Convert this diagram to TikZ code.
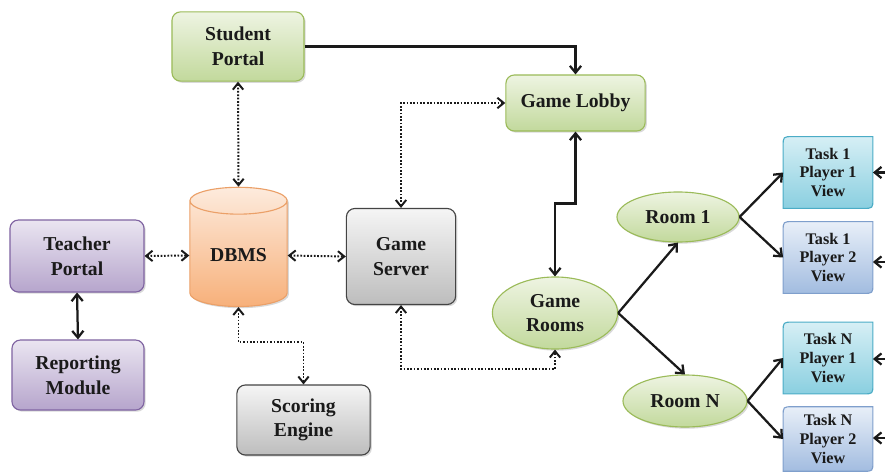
\documentclass[tikz,border=0pt]{standalone}
\usepackage{fontspec}
\setmainfont{Liberation Serif}
\usetikzlibrary{arrows.meta,positioning,shapes.geometric,shadows,backgrounds}

\definecolor{grnline}{HTML}{9BBB59}
\definecolor{grntop}{HTML}{EEF4E2}
\definecolor{grnbot}{HTML}{C2D99C}
\definecolor{purline}{HTML}{8064A2}
\definecolor{purtop}{HTML}{EAE5F1}
\definecolor{purbot}{HTML}{B6A5CC}
\definecolor{orgline}{HTML}{EBA068}
\definecolor{orgtop}{HTML}{FDEBDD}
\definecolor{orgbot}{HTML}{F7B07A}
\definecolor{gryline}{HTML}{444444}
\definecolor{grytop}{HTML}{F5F5F5}
\definecolor{grybot}{HTML}{BDBDBD}
\definecolor{cynline}{HTML}{4BACC6}
\definecolor{cyntop}{HTML}{D6EFF5}
\definecolor{cynbot}{HTML}{8ACFE0}
\definecolor{bluline}{HTML}{7F9FCC}
\definecolor{blutop}{HTML}{E8EFF8}
\definecolor{blubot}{HTML}{A2BCE0}
\definecolor{ink}{HTML}{1A1A1A}

\begin{document}
\begin{tikzpicture}[
 x=0.025cm,
 y=-0.025cm,
 base/.style={
  text=ink,
  align=center,
  inner sep=1pt,
  font=\bfseries\fontsize{14}{17.5}\selectfont,
  drop shadow={opacity=0.3,shadow xshift=1.2pt,shadow yshift=-1.2pt}
 },
 box/.style={base,rectangle,rounded corners=6pt,thick},
 green/.style={draw=grnline,top color=grntop,bottom color=grnbot},
 purple/.style={box,draw=purline,top color=purtop,bottom color=purbot},
 grey/.style={box,draw=gryline,top color=grytop,bottom color=grybot},
 room/.style={base,ellipse,thick,green},
 db/.style={
  base,
  cylinder,
  shape border rotate=90,
  aspect=0.45,
  thick,
  draw=orgline,
  top color=orgtop,
  bottom color=orgbot
 },
 task/.style={
  align=center,
  text=ink,
  inner sep=0pt,
  minimum width=2.23cm,
  minimum height=1.78cm,
  font=\bfseries\fontsize{11.5}{13.5}\selectfont
 },
 cyan view/.style={thick,draw=cynline,top color=cyntop,bottom color=cynbot},
 blue view/.style={thick,draw=bluline,top color=blutop,bottom color=blubot},
 arr/.style={-{Straight Barb[length=1.7mm,width=2.8mm]},line width=1.6pt,ink},
 dbl/.style={arr,{Straight Barb[length=1.7mm,width=2.8mm]}-{Straight Barb[length=1.7mm,width=2.8mm]}},
 dots/.style={
  {Straight Barb[length=1.6mm,width=2.6mm]}-{Straight Barb[length=1.6mm,width=2.6mm]},
  line width=1.4pt,
  dash pattern=on 1.2pt off 1.2pt,
  ink
 }
]
 \useasboundingbox (0,0) rectangle (885,472);

 % portals and servers
 \node[box,green,minimum width=3.3cm,minimum height=1.73cm]   (sp) at (238,46.5) {Student\\Portal};
 \node[box,green,minimum width=3.48cm,minimum height=1.4cm]   (lobby) at (575.5,103) {Game Lobby};
 \node[purple,minimum width=3.35cm,minimum height=1.8cm]      (teacher) at (77,256) {Teacher\\Portal};
 \node[purple,minimum width=3.3cm,minimum height=1.75cm]      (report) at (78,375) {Reporting\\Module};
 \node[db,minimum width=2.43cm,minimum height=2.98cm]         (dbms) at (238.5,255.5) {DBMS};
 \node[grey,minimum width=2.73cm,minimum height=2.4cm]        (server) at (401,256.5) {Game\\Server};
 \node[grey,minimum width=3.33cm,minimum height=1.75cm]       (scoring) at (303.5,420) {Scoring\\Engine};

 % rooms
 \node[room,minimum width=3.13cm,minimum height=1.8cm]  (rooms) at (555,313) {Game\\Rooms};
 \node[room,minimum width=3.05cm,minimum height=1.25cm] (room1) at (678,217) {Room 1};
 \node[room,minimum width=3.1cm,minimum height=1.3cm]   (roomn) at (685,401) {Room N};

 % player views
 \node[task] (t1p1) at (828,172.5) {Task 1\\Player 1\\View};
 \node[task] (t1p2) at (828,257.5) {Task 1\\Player 2\\View};
 \node[task] (tnp1) at (828,358)   {Task N\\Player 1\\View};
 \node[task,minimum height=1.6cm] (tnp2) at (828,439) {Task N\\Player 2\\View};
 \begin{scope}[on background layer]
  \draw[cyan view] (t1p1.north east) -- ([xshift=7pt]t1p1.north west)
   .. controls (t1p1.north west) .. ([yshift=-7pt]t1p1.north west) -- (t1p1.south west)
   -- ([xshift=-7pt]t1p1.south east) .. controls (t1p1.south east) .. ([yshift=7pt]t1p1.south east) -- cycle;
  \draw[blue view] (t1p2.north east) -- ([xshift=7pt]t1p2.north west)
   .. controls (t1p2.north west) .. ([yshift=-7pt]t1p2.north west) -- (t1p2.south west)
   -- ([xshift=-7pt]t1p2.south east) .. controls (t1p2.south east) .. ([yshift=7pt]t1p2.south east) -- cycle;
  \draw[cyan view] (tnp1.north east) -- ([xshift=7pt]tnp1.north west)
   .. controls (tnp1.north west) .. ([yshift=-7pt]tnp1.north west) -- (tnp1.south west)
   -- ([xshift=-7pt]tnp1.south east) .. controls (tnp1.south east) .. ([yshift=7pt]tnp1.south east) -- cycle;
  \draw[blue view] (tnp2.north east) -- ([xshift=7pt]tnp2.north west)
   .. controls (tnp2.north west) .. ([yshift=-7pt]tnp2.north west) -- (tnp2.south west)
   -- ([xshift=-7pt]tnp2.south east) .. controls (tnp2.south east) .. ([yshift=7pt]tnp2.south east) -- cycle;
 \end{scope}

 % inputs from the right edge
 \coordinate (in1) at (885,172.5);
 \coordinate (in2) at (885,262);
 \coordinate (in3) at (885,359);
 \coordinate (in4) at (885,438);

 \draw[arr] (sp.east) -| (lobby.north);
 \draw[dots] (sp.south) -- (dbms.north);
 \draw[dots] (server.north) |- (lobby.west);
 \draw[dbl] (lobby.south) -- ++(0,72) -| (rooms.north);
 \draw[dots] (teacher.east) -- (dbms.west);
 \draw[dots] (dbms.east) -- (server.west);
 \draw[dbl] (teacher.south) -- (report.north);
 \draw[dots] (dbms.south) -- ++(0,35) -| (scoring.north);
 \draw[dots] (server.south) -- ++(0,64) -| (rooms.south);

 \draw[arr] (rooms.east) -- (room1.south);
 \draw[arr] (rooms.east) -- (roomn.north);
 \draw[arr] (room1.east) -- (t1p1.west);
 \draw[arr] (room1.east) -- (t1p2.west);
 \draw[arr] (roomn.east) -- (tnp1.west);
 \draw[arr] (roomn.east) -- (tnp2.west);

 \draw[arr] (in1) -- (t1p1.east |- in1);
 \draw[arr] (in2) -- (t1p2.east |- in2);
 \draw[arr] (in3) -- (tnp1.east |- in3);
 \draw[arr] (in4) -- (tnp2.east |- in4);
\end{tikzpicture}
\end{document}
